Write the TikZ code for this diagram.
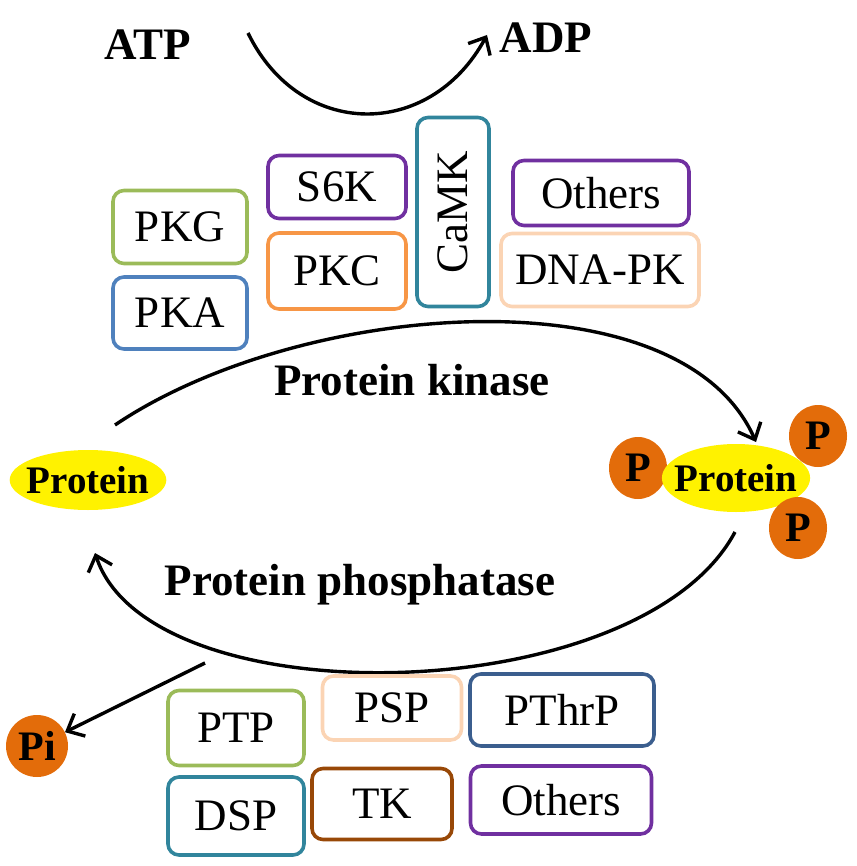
\documentclass[tikz,border=0pt]{standalone}
\usepackage{fontspec}
\setmainfont{Liberation Serif}
\usetikzlibrary{arrows.meta}
\usetikzlibrary{shapes.geometric}

\definecolor{kgreen}{HTML}{9BBB59}
\definecolor{kblue}{HTML}{4F81BD}
\definecolor{kpurple}{HTML}{7030A0}
\definecolor{korange}{HTML}{F79646}
\definecolor{kteal}{HTML}{31859C}
\definecolor{kpeach}{HTML}{FBD4B4}
\definecolor{kdblue}{HTML}{3B5E8E}
\definecolor{kbrown}{HTML}{984807}
\definecolor{pball}{HTML}{E36C0A}

\tikzset{
  enzbox/.style={draw=#1, line width=3.6pt, rounded corners=11pt, font=\fontsize{45}{47}\selectfont, inner sep=0pt},
  protein/.style={ellipse, fill=yellow, inner ysep=0pt, font=\bfseries\fontsize{39}{41}\selectfont},
  pgroup/.style={ellipse, fill=pball, inner sep=0pt, minimum width=58pt, minimum height=62pt, font=\bfseries\fontsize{42}{44}\selectfont},
  bigarrow/.style={line width=3.4pt, -{Straight Barb[length=14pt,width=25pt]}},
  lbl/.style={font=\bfseries\fontsize{45}{47}\selectfont}
}

\begin{document}
\begin{tikzpicture}[x=1pt, y=-1pt]
			\useasboundingbox (0,0) rectangle (856,866);
			% ATP -> ADP
			\node[lbl] (atp) at (148,45) {ATP};
			\node[lbl] (adp) at (546,38) {ADP};
			\coordinate (atpout) at (248,33);
			\coordinate (adpin) at (487,35);
			\draw[bigarrow] (atpout) .. controls (300,140) and (430,140) .. (adpin);
			% kinases
			\node[enzbox=kgreen, minimum width=134pt, minimum height=73pt] (pkg) at (180,227) {PKG};
			\node[enzbox=kblue, minimum width=134pt, minimum height=72pt] (pka) at (180,313) {PKA};
			\node[enzbox=kpurple, minimum width=138pt, minimum height=63pt] (s6k) at (337,187) {S6K};
			\node[enzbox=korange, minimum width=138pt, minimum height=76pt] (pkc) at (337,271) {PKC};
			\node[enzbox=kteal, minimum width=72pt, minimum height=189pt] (camk) at (453,212) {\rotatebox{90}{CaMK}};
			\node[enzbox=kpurple, minimum width=176pt, minimum height=65pt] (othersK) at (601,193) {Others};
			\node[enzbox=kpeach, minimum width=198pt, minimum height=73pt] (dnapk) at (600,270) {DNA-PK};
			% proteins
			\node[protein, inner xsep=-6pt, minimum height=60pt] (prot) at (88,480) {Protein};
			\node[pgroup] (p1) at (638,468) {P};
			\node[protein, inner xsep=-9pt, minimum height=68pt] (protP) at (736,478) {Protein};
			\node[pgroup] (p2) at (818,436) {P};
			\node[pgroup] (p3) at (798,528) {P};
			% cycle
			\node[lbl] (kinase) at (412,380) {Protein kinase};
			\node[lbl] (phosphatase) at (360,585) {Protein phosphatase};
			\coordinate (kstart) at (115,425);
			\coordinate (kend) at (756,442);
			\coordinate (pstart) at (735,532);
			\coordinate (pend) at (95,553);
			\draw[bigarrow] (kstart) .. controls (300,300) and (680,270) .. (kend);
			\draw[bigarrow] (pstart) .. controls (640,710) and (150,720) .. (pend);
			% Pi
			\node[pgroup, minimum width=62pt, minimum height=62pt] (pi) at (37,746) {Pi};
			\coordinate (piout) at (205,663);
			\draw[bigarrow] (piout) -- (pi);
			% phosphatases
			\node[enzbox=kgreen, minimum width=136pt, minimum height=75pt] (ptp) at (236,728) {PTP};
			\node[enzbox=kpeach, minimum width=139pt, minimum height=64pt] (psp) at (392,708) {PSP};
			\node[enzbox=kdblue, minimum width=184pt, minimum height=72pt] (pthrp) at (562,710) {PThrP};
			\node[enzbox=kteal, minimum width=136pt, minimum height=78pt] (dsp) at (236,816) {DSP};
			\node[enzbox=kbrown, minimum width=140pt, minimum height=71pt] (tk) at (382,804) {TK};
			\node[enzbox=kpurple, minimum width=181pt, minimum height=68pt] (othersP) at (561,800) {Others};
		\end{tikzpicture}
\end{document}
